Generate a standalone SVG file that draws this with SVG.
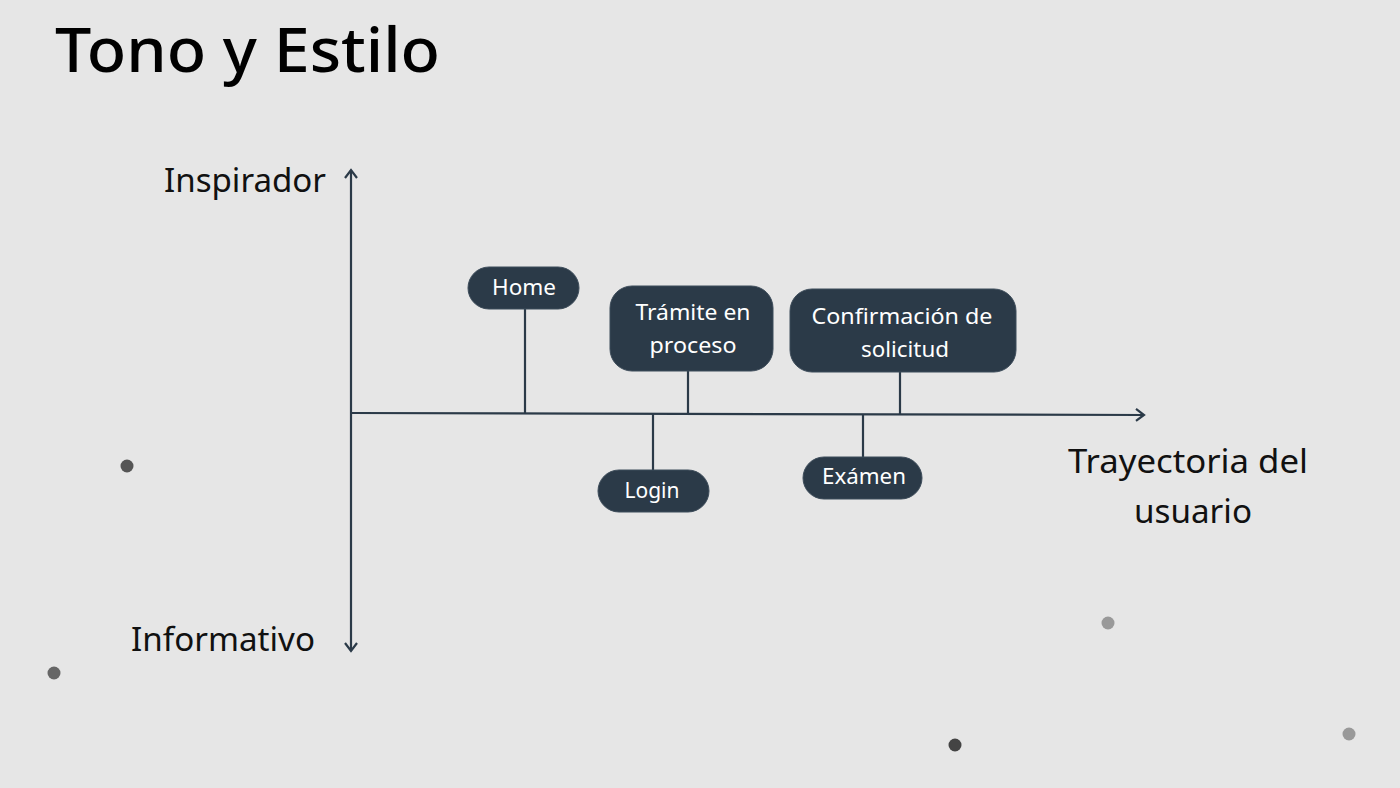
<svg xmlns="http://www.w3.org/2000/svg" width="1400" height="788" viewBox="0 0 1400 788">
<style>
.box{fill:#2b3a48;stroke:#3d4c5a;stroke-width:1}
.bt{fill:#ffffff;font-family:"Noto Sans","Open Sans",sans-serif;font-size:21px;text-anchor:middle}
.ax{stroke:#2b3a48;stroke-width:2.2;fill:none}
.lbl{fill:#111;font-family:"Noto Sans","Open Sans",sans-serif;font-size:32px}
</style>
<defs>
<marker id="arr" viewBox="0 0 12 16" refX="10" refY="8" markerWidth="12" markerHeight="16" markerUnits="userSpaceOnUse" orient="auto">
<path d="M2,2 L10,8 L2,14" fill="none" stroke="#2b3a48" stroke-width="2.2"/>
</marker>
</defs>
<rect width="1400" height="788" fill="#e6e6e6"/>
<text x="55" y="72" font-family="'Noto Sans','Open Sans',sans-serif" font-size="62" font-weight="500" fill="#000" textLength="385" lengthAdjust="spacingAndGlyphs">Tono y Estilo</text>
<g id="dots">
<circle cx="127" cy="466" r="6.5" fill="#555"/>
<circle cx="54" cy="673" r="6.5" fill="#666"/>
<circle cx="1108" cy="623" r="6.5" fill="#999"/>
<circle cx="955" cy="745" r="6.5" fill="#444"/>
<circle cx="1349" cy="734" r="6.5" fill="#999"/>
</g>
<g id="connectors">
<line class="ax" x1="351" y1="412" x2="351" y2="170" marker-end="url(#arr)"/>
<line class="ax" x1="351" y1="412" x2="351" y2="651" marker-end="url(#arr)"/>
<line class="ax" x1="351" y1="413" x2="1144" y2="415" marker-end="url(#arr)"/>
<line class="ax" x1="525" y1="309" x2="525" y2="413"/>
<line class="ax" x1="688" y1="371" x2="688" y2="414"/>
<line class="ax" x1="900" y1="372" x2="900" y2="415"/>
<line class="ax" x1="653" y1="414" x2="653" y2="470"/>
<line class="ax" x1="863" y1="415" x2="863" y2="457"/>
</g>
<g id="axis-labels">
<text class="lbl" x="326" y="192" text-anchor="end" textLength="162" lengthAdjust="spacingAndGlyphs">Inspirador</text>
<text class="lbl" x="315" y="651" text-anchor="end" textLength="184" lengthAdjust="spacingAndGlyphs">Informativo</text>
<text class="lbl" x="1188" y="473" text-anchor="middle" textLength="240" lengthAdjust="spacingAndGlyphs">Trayectoria del</text>
<text class="lbl" x="1193" y="523" text-anchor="middle" textLength="118" lengthAdjust="spacingAndGlyphs">usuario</text>
</g>
<g id="home"><rect class="box" x="468" y="267" width="111" height="42" rx="21"/><text class="bt" x="524" y="295" textLength="64" lengthAdjust="spacingAndGlyphs">Home</text></g>
<g id="tramite"><rect class="box" x="610" y="286" width="163" height="85" rx="22"/><text class="bt" x="693" y="320" textLength="115" lengthAdjust="spacingAndGlyphs">Trámite en</text><text class="bt" x="693" y="353" textLength="87" lengthAdjust="spacingAndGlyphs">proceso</text></g>
<g id="confirmacion"><rect class="box" x="790" y="289" width="226" height="83" rx="22"/><text class="bt" x="902" y="324" textLength="181" lengthAdjust="spacingAndGlyphs">Confirmación de</text><text class="bt" x="905" y="357" textLength="88" lengthAdjust="spacingAndGlyphs">solicitud</text></g>
<g id="login"><rect class="box" x="598" y="470" width="111" height="42" rx="21"/><text class="bt" x="652" y="498" textLength="55" lengthAdjust="spacingAndGlyphs">Login</text></g>
<g id="examen"><rect class="box" x="803" y="457" width="119" height="42" rx="21"/><text class="bt" x="864" y="484" textLength="84" lengthAdjust="spacingAndGlyphs">Exámen</text></g>
</svg>
